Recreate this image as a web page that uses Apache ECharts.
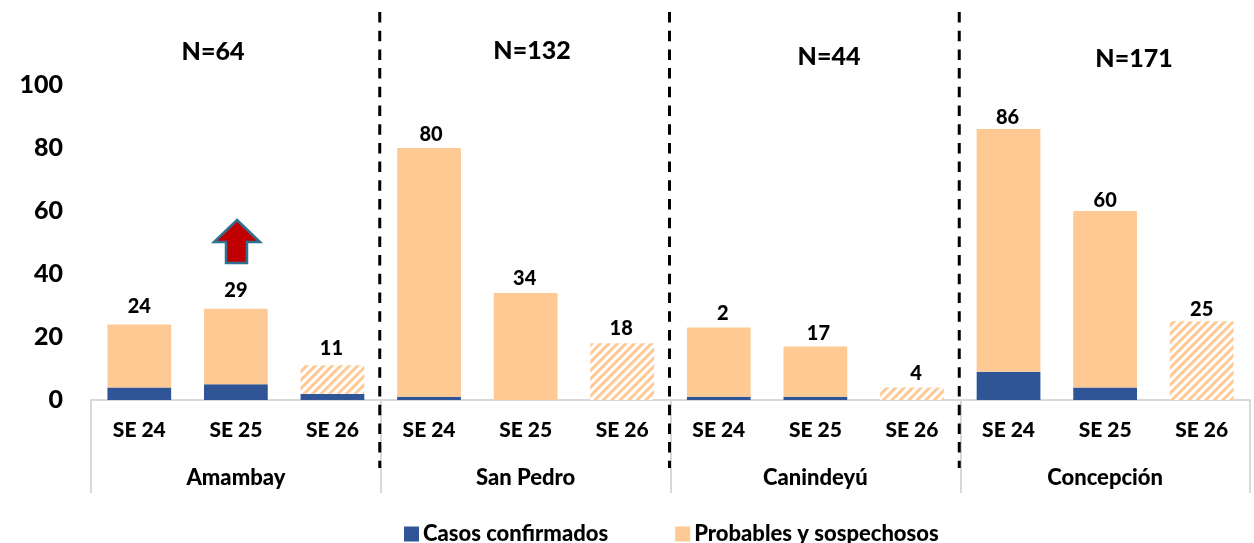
<!DOCTYPE html>
<html><head><meta charset="utf-8">
<style>html,body{margin:0;padding:0;background:#fff}#c{width:1254px;height:543px}</style>
<script src="https://cdn.jsdelivr.net/npm/echarts@6/dist/echarts.min.js"></script>
</head><body><div id="c"></div>
<script>
const weeks = ['SE 24','SE 25','SE 26','SE 24','SE 25','SE 26','SE 24','SE 25','SE 26','SE 24','SE 25','SE 26'];
const regions = ['Amambay','San Pedro','Canindeyú','Concepción'];
const totalsN = ['N=64','N=132','N=44','N=171'];
const confirmed = [4,5,2,1,0,0,1,1,0,9,4,0];
const probable = [20,24,9,79,34,18,22,16,4,77,56,25];
const labels = ['24','29','11','80','34','18','2','17','4','86','60','25'];
const labelLift = [4,4,3,-1,0,1,0,-1,0,-2,-4,-2];
const labelShift = [0,0,-1,2,-1,-1,4,3,4,-1,0,0];
const hatched = [2,5,8,11];
const FONT = 'Lato';
const W = 900;
const PEACH = '#FFC994', BLUE = '#2F5597';

const chart = echarts.init(document.getElementById('c'));
chart.setOption({
  animation:false,
  backgroundColor:'#fff',
  textStyle:{fontFamily:FONT,fontWeight:W,color:'#000'},
  grid:{left:91,right:4,top:85,bottom:143},
  legend:{
    left:399, top:518, itemWidth:15, itemHeight:15, itemGap:67,
    icon:'rect',
    textStyle:{fontFamily:FONT,fontWeight:W,fontSize:22,color:'#000',padding:[0,0,0,-1]},
    data:['Casos confirmados','Probables y sospechosos']
  },
  xAxis:[
    {type:'category',data:weeks,position:'bottom',
      axisLine:{lineStyle:{color:'#D9D9D9',width:2}},axisTick:{show:false},
      axisLabel:{interval:0,margin:20,fontFamily:FONT,fontWeight:W,fontSize:21,color:'#000'}},
    {type:'category',data:regions,position:'bottom',
      axisLine:{show:false},
      axisTick:{show:true,length:93,lineStyle:{color:'#D9D9D9',width:2}},
      axisLabel:{interval:0,margin:67,fontFamily:FONT,fontWeight:W,fontSize:22,color:'#000'}}
  ],
  yAxis:{type:'value',min:0,max:100,interval:20,
    axisLine:{show:false},axisTick:{show:false},splitLine:{show:false},
    axisLabel:{margin:28,fontFamily:FONT,fontWeight:W,fontSize:25,color:'#000'}},
  series:[
    {name:'Casos confirmados',type:'bar',stack:'a',barWidth:'66%',data:confirmed,
      itemStyle:{color:BLUE}},
    {name:'Probables y sospechosos',type:'bar',stack:'a',barWidth:'66%',
      itemStyle:{color:PEACH},
      data:probable.map((v,i)=>({
        value:v,
        itemStyle: hatched.includes(i) ? {color:'#fff',decal:{symbol:'rect',color:PEACH,backgroundColor:'#fff',
          dashArrayX:[1,0],dashArrayY:[3,2.5],rotation:-Math.PI/4,symbolSize:1}} : {color:PEACH},
        label:{show:true,position:'top',distance:4,offset:[labelShift[i],-labelLift[i]],formatter:labels[i],
          fontFamily:FONT,fontWeight:W,fontSize:20,color:'#000'}
      }))}
  ]
});
const px = i => chart.convertToPixel({xAxisIndex:0},i);
const dividers = [2,5,8].map(i => (px(i)+px(i+1))/2 - 1);
const nPos = [[213,52],[532,51],[829,57],[1134,59]];
const g = [];
dividers.forEach(x=>g.push({type:'line',shape:{x1:x,y1:12,x2:x,y2:468},
  style:{stroke:'#000',lineWidth:3,lineDash:[10.5,8.2]},z:20}));
totalsN.forEach((t,i)=>g.push({type:'text',x:nPos[i][0],y:nPos[i][1],
  style:{text:t,fontFamily:FONT,fontWeight:W,fontSize:25,fill:'#000',align:'center',verticalAlign:'middle'}}));
g.push({type:'polygon',shape:{points:[[237,220],[260,242],[247,242],[247,263],[226,263],[226,242],[214,242]]},
  style:{fill:'#C00000',stroke:'#31708F',lineWidth:2.5}});
chart.setOption({graphic:g});
</script></body></html>
